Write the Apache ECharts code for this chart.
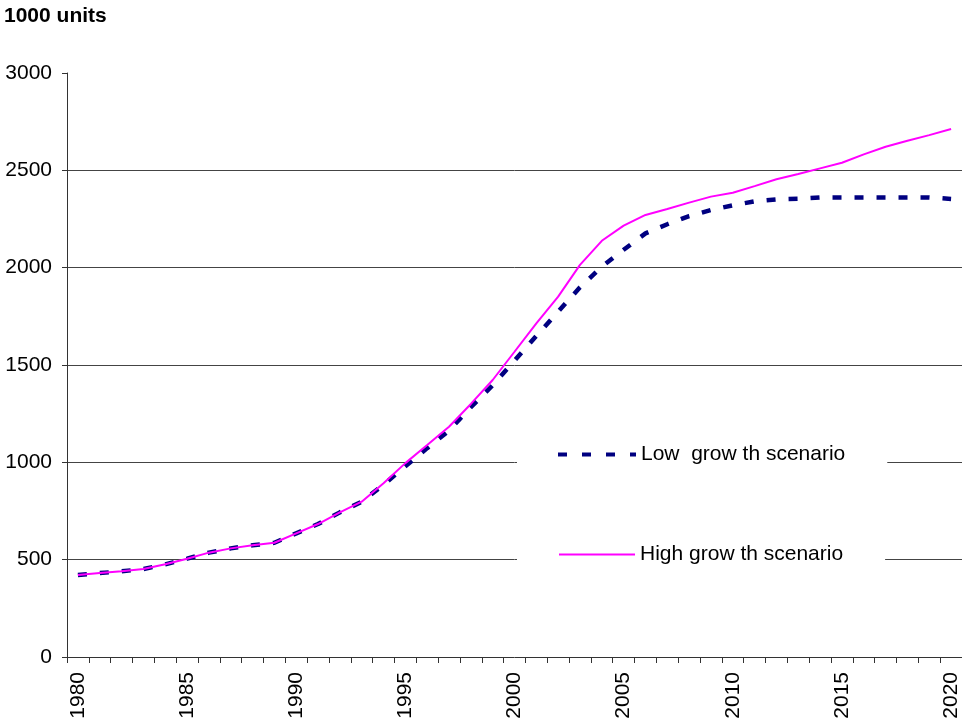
<!DOCTYPE html>
<html>
<head>
<meta charset="utf-8">
<script src="https://cdn.jsdelivr.net/npm/echarts@6/dist/echarts.min.js"></script>
<style>
  html, body { margin: 0; padding: 0; background: #fff; }
  #chart { width: 962px; height: 725px; }
</style>
</head>
<body>
<div id="chart"></div>
<script>
// Years on the category axis
const years = [];
for (let y = 1980; y <= 2020; y++) years.push(String(y));

// Series names as shown in the legend
const lowName = 'Low  grow th scenario';
const highName = 'High grow th scenario';

// Stock in thousand units, low growth scenario
const lowGrowth = [
  421, 431, 440, 452, 476, 505, 536, 558, 574, 587,
  635, 683, 743, 798, 885, 980, 1073, 1163, 1283, 1396,
  1522, 1649, 1774, 1899, 2005, 2092, 2176, 2223, 2265, 2296,
  2320, 2341, 2351, 2354, 2361, 2361, 2361, 2361, 2361, 2361,
  2353
];

// Stock in thousand units, high growth scenario
const highGrowth = [
  421, 431, 440, 452, 476, 505, 536, 558, 574, 587,
  635, 683, 743, 798, 892, 996, 1089, 1183, 1300, 1423,
  1568, 1714, 1851, 2014, 2138, 2216, 2271, 2301, 2334, 2365,
  2385, 2419, 2454, 2481, 2510, 2539, 2582, 2621, 2652, 2681,
  2712
];

const font = 'Liberation Sans, Arial, sans-serif';

// Legend entries show only the line, no marker dot
const hiddenMarker = { color: 'rgba(0,0,0,0)', borderWidth: 0, opacity: 0 };

const chart = echarts.init(document.getElementById('chart'), null, { renderer: 'canvas' });

chart.setOption({
  animation: false,
  backgroundColor: '#ffffff',
  title: {
    text: '1000 units',
    left: 4,
    top: 6,
    padding: 0,
    textStyle: { fontFamily: font, fontSize: 21, fontWeight: 'bold', color: '#000' }
  },
  grid: { left: 67, right: 0, top: 73, bottom: 68, containLabel: false },
  legend: [
    {
      data: [lowName],
      left: 517,
      top: 430,
      padding: [14, 42, 10, 39],
      backgroundColor: '#ffffff',
      itemWidth: 78,
      itemHeight: 10,
      itemGap: 0,
      itemStyle: hiddenMarker,
      lineStyle: { width: 4, type: [9, 15], color: '#000080' },
      textStyle: { fontFamily: font, fontSize: 21, color: '#000' }
    },
    {
      data: [highName],
      left: 517,
      top: 530,
      padding: [14, 42, 10, 41],
      backgroundColor: '#ffffff',
      itemWidth: 76,
      itemHeight: 10,
      itemGap: 0,
      itemStyle: hiddenMarker,
      lineStyle: { width: 2, color: '#ff00ff' },
      textStyle: { fontFamily: font, fontSize: 21, color: '#000' }
    }
  ],
  xAxis: {
    type: 'category',
    data: years,
    boundaryGap: true,
    axisLine: { lineStyle: { color: '#333', width: 1 } },
    axisTick: { show: true, interval: 0, length: 6, lineStyle: { color: '#333' } },
    axisLabel: {
      interval: 4,
      rotate: 90,
      margin: 15,
      fontFamily: font,
      fontSize: 21,
      color: '#000'
    },
    splitLine: { show: false }
  },
  yAxis: {
    type: 'value',
    min: 0,
    max: 3000,
    interval: 500,
    axisLine: { show: true, lineStyle: { color: '#333', width: 1 } },
    axisTick: { show: true, length: 5, lineStyle: { color: '#333' } },
    axisLabel: {
      margin: 15,
      fontFamily: font,
      fontSize: 21,
      color: '#000',
      formatter: (v) => String(v)
    },
    splitLine: {
      show: true,
      showMinLine: false,
      showMaxLine: false,
      lineStyle: { color: '#444', width: 1 }
    }
  },
  series: [
    {
      name: lowName,
      type: 'line',
      data: lowGrowth,
      symbol: 'none',
      z: 2,
      itemStyle: { color: '#000080' },
      lineStyle: { color: '#000080', width: 4.5, type: [9, 13] }
    },
    {
      name: highName,
      type: 'line',
      data: highGrowth,
      symbol: 'none',
      z: 3,
      itemStyle: { color: '#ff00ff' },
      lineStyle: { color: '#ff00ff', width: 2 }
    }
  ]
});
</script>
</body>
</html>
